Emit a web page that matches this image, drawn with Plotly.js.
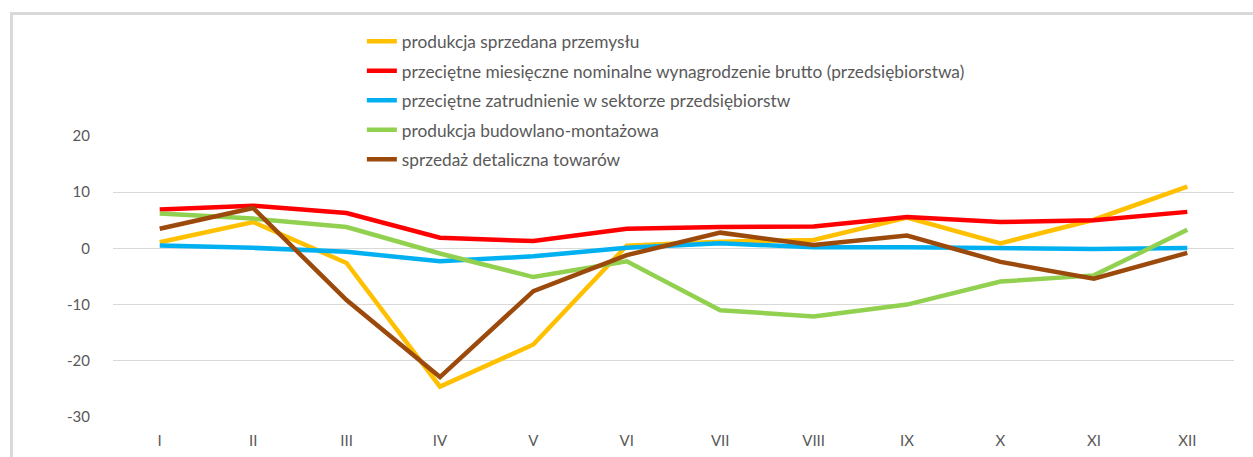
<!DOCTYPE html>
<html><head><meta charset="utf-8">
<script src="https://cdn.plot.ly/plotly-3.0.1.min.js"></script>
<style>
html,body{margin:0;padding:0;background:#fff;}
#wrap{position:relative;width:1253px;height:457px;overflow:hidden;}
#frame{position:absolute;left:10px;top:12px;right:0;bottom:-10px;border-top:3px solid #d9d9d9;border-left:3px solid #d9d9d9;pointer-events:none;}
#chart{position:absolute;left:0;top:0;width:1253px;height:457px;}
</style></head>
<body><div id="wrap"><div id="chart"></div><div id="frame"></div></div>
<script>
const months = ["I","II","III","IV","V","VI","VII","VIII","IX","X","XI","XII"];
const seriesNames = [
  "produkcja sprzedana przemysłu",
  "przeciętne miesięczne nominalne wynagrodzenie brutto (przedsiębiorstwa)",
  "przeciętne zatrudnienie w sektorze przedsiębiorstw",
  "produkcja budowlano-montażowa",
  "sprzedaż detaliczna towarów"
];
const produkcjaSprzedana = [1.1, 4.7, -2.6, -24.6, -17.1, 0.5, 1.2, 1.5, 5.5, 0.9, 5.1, 11.0];
const wynagrodzenie = [6.9, 7.6, 6.3, 1.9, 1.3, 3.5, 3.8, 3.9, 5.6, 4.7, 5.0, 6.5];
const zatrudnienie = [0.5, 0.1, -0.6, -2.3, -1.4, 0.1, 0.9, 0.2, 0.2, 0.05, -0.1, 0.05];
const budowlana = [6.2, 5.3, 3.8, -0.9, -5.1, -2.3, -11.0, -12.1, -10.0, -5.9, -4.8, 3.3];
const detaliczna = [3.5, 7.2, -9.2, -22.9, -7.6, -1.2, 2.8, 0.6, 2.3, -2.4, -5.4, -0.8];
const yTicks = [-30, -20, -10, 0, 10, 20];

const colors = ["#FFC000", "#FF0000", "#00B0F0", "#92D050", "#9C4A0C"];
const values = [produkcjaSprzedana, wynagrodzenie, zatrudnienie, budowlana, detaliczna];

const traces = values.map((v, i) => ({
  type: "scatter", mode: "lines", x: months, y: v, name: seriesNames[i],
  legendgroup: "g" + i,
  line: {color: colors[i], width: 4.5}, hoverinfo: "x+y+name"
}));

const layout = {
  width: 1253, height: 457,
  margin: {l: 113, r: 19, t: 136, b: 40, autoexpand: false},
  paper_bgcolor: "rgba(0,0,0,0)", plot_bgcolor: "#fff",
  font: {family: "Lato, 'Open Sans', sans-serif", size: 14, color: "#595959"},
  xaxis: {
    type: "category", range: [-0.5, 11.5], showgrid: false, zeroline: false,
    showline: false, ticks: "", tickfont: {size: 15, color: "#595959"}, ticklabelstandoff: 13
  },
  yaxis: {
    range: [-30, 20], tickvals: yTicks, ticktext: yTicks.map(String),
    showgrid: true, gridcolor: "#d9d9d9", gridwidth: 1, zeroline: false,
    showline: false, ticks: "", tickfont: {size: 15, color: "#595959"}, ticklabelstandoff: 22
  },
  showlegend: true,
  legend: {
    x: 0.222, y: 1.4, xanchor: "left", yanchor: "top",
    bgcolor: "rgba(0,0,0,0)", font: {size: 17.3, color: "#595959"},
    tracegroupgap: 4, traceorder: "grouped"
  }
};
Plotly.newPlot("chart", traces, layout, {displayModeBar: false, staticPlot: true});
</script></body></html>
